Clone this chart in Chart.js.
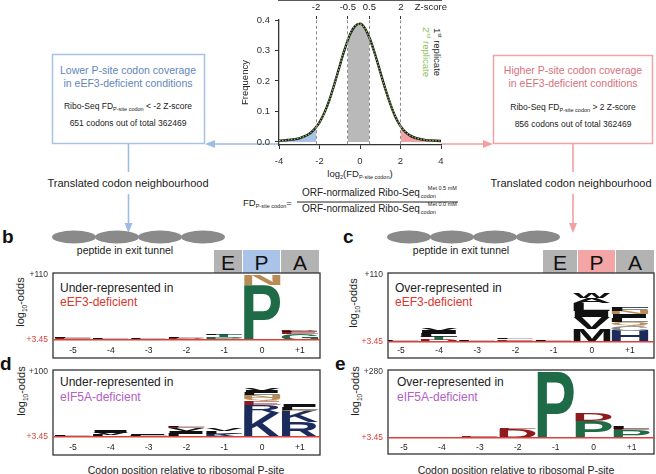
<!DOCTYPE html>
<html><head><meta charset="utf-8">
<script src="https://cdn.jsdelivr.net/npm/chart.js@4.4.1/dist/chart.umd.min.js"></script>
<style>
body{margin:0;background:#fff;}
#root{position:relative;width:656px;height:474px;overflow:hidden;background:#fff;font-family:"Liberation Sans",Arial,Helvetica,sans-serif;color:#222;}
.t{position:absolute;white-space:nowrap;line-height:1;}
.c{transform:translate(-50%,-50%);}
.l{transform:translateY(-50%);}
.cv{position:absolute;}
sub.s{font-size:5.5px;vertical-align:-2px;}
.lab{position:absolute;font-weight:bold;font-size:19px;line-height:1;color:#111;}
</style></head><body><div id="root">

<svg width="656" height="474" style="position:absolute;left:0;top:0">
  <rect x="52.5" y="54.5" width="152" height="89" fill="none" stroke="#a8c2e6" stroke-width="1.5"/>
  <line x1="279" y1="144" x2="213" y2="144" stroke="#9ebbe4" stroke-width="1.6"/>
  <polygon points="205,144 215,140 215,148" fill="#9ebbe4"/>
  <line x1="128.5" y1="144" x2="128.5" y2="172" stroke="#9ebbe4" stroke-width="1.6"/>
  <line x1="128.5" y1="194" x2="128.5" y2="224" stroke="#9ebbe4" stroke-width="1.6"/>
  <polygon points="128.5,233 124.5,223 132.5,223" fill="#9ebbe4"/>
  <rect x="493.5" y="55.5" width="159" height="88" fill="none" stroke="#f0a3a3" stroke-width="1.5"/>
  <line x1="441" y1="144" x2="485" y2="144" stroke="#f2a0a0" stroke-width="1.6"/>
  <polygon points="493,144 483,140 483,148" fill="#f2a0a0"/>
  <line x1="573" y1="144" x2="573" y2="172" stroke="#f2a0a0" stroke-width="1.6"/>
  <line x1="573" y1="194" x2="573" y2="224" stroke="#f2a0a0" stroke-width="1.6"/>
  <polygon points="573,233 569,223 577,223" fill="#f2a0a0"/>
  <line x1="297" y1="202" x2="458" y2="202" stroke="#222" stroke-width="1"/>
  <g fill="#8a8a8a">
    <ellipse cx="74" cy="237" rx="22" ry="6.5"/><ellipse cx="117" cy="237" rx="22" ry="6.5"/>
    <ellipse cx="160" cy="237" rx="22" ry="6.5"/><ellipse cx="203" cy="237" rx="22" ry="6.5"/>
    <ellipse cx="409" cy="237" rx="22" ry="6.5"/><ellipse cx="452" cy="237" rx="22" ry="6.5"/>
    <ellipse cx="495" cy="237" rx="22" ry="6.5"/><ellipse cx="538" cy="237" rx="22" ry="6.5"/>
  </g>
  <rect x="214" y="250" width="28" height="23" fill="#b3b3b3"/>
  <rect x="243" y="250" width="37" height="23" fill="#a9c4e8"/>
  <rect x="281" y="250" width="38" height="23" fill="#b3b3b3"/>
  <rect x="543" y="250" width="34" height="23" fill="#b3b3b3"/>
  <rect x="578" y="250" width="37" height="23" fill="#f4a6a6"/>
  <rect x="616" y="250" width="38" height="23" fill="#b3b3b3"/>
  <g fill="none" stroke="#333" stroke-width="1.3">
    <rect x="53" y="273" width="267" height="85"/>
    <rect x="388" y="273" width="266" height="85"/>
    <rect x="53" y="370" width="267" height="85"/>
    <rect x="388" y="370" width="266" height="84"/>
  </g>
</svg>

<div class="t c" style="left:128px;top:70px;font-size:10.5px;color:#5f86bd">Lower P-site codon coverage</div>
<div class="t c" style="left:128px;top:83px;font-size:10.5px;color:#5f86bd">in eEF3-deficient conditions</div>
<div class="t c" style="left:128px;top:107px;font-size:8.5px">Ribo-Seq FD<sub class="s">P-site codon</sub> &lt; -2 Z-score</div>
<div class="t c" style="left:128px;top:123px;font-size:8.5px">651 codons out of total 362469</div>
<div class="t c" style="left:573px;top:70px;font-size:10.5px;color:#d8707a">Higher P-site codon coverage</div>
<div class="t c" style="left:573px;top:83px;font-size:10.5px;color:#d8707a">in eEF3-deficient conditions</div>
<div class="t c" style="left:573px;top:108px;font-size:8.5px">Ribo-Seq FD<sub class="s">P-site codon</sub> &gt; 2 Z-score</div>
<div class="t c" style="left:573px;top:124px;font-size:8.5px">856 codons out of total 362469</div>
<div class="t c" style="left:128px;top:183px;font-size:11px">Translated codon neighbourhood</div>
<div class="t c" style="left:571px;top:183px;font-size:11px">Translated codon neighbourhood</div>

<div class="t c" style="left:360px;top:175px;font-size:9.5px">log<sub class="s">2</sub>(FD<sub class="s">P-site codon</sub>)</div>
<div class="t c" style="left:437px;top:52px;font-size:9.5px;transform:translate(-50%,-50%) rotate(90deg)">1<sup style="font-size:5.5px">st</sup> replicate</div>
<div class="t c" style="left:426px;top:52px;font-size:9.5px;color:#8dbd5a;transform:translate(-50%,-50%) rotate(90deg)">2<sup style="font-size:5.5px">nd</sup> replicate</div>

<div class="t" style="left:243px;top:198px;font-size:9.5px">FD<sub class="s">P-site codon</sub>=</div>
<div class="t" style="left:302px;top:188px;font-size:10px">ORF-normalized Ribo-Seq<span style="display:inline-block;position:relative;width:36px;height:10px;vertical-align:top"><span style="position:absolute;left:1px;top:6px;font-size:5.5px">codon</span><span style="position:absolute;left:8px;top:-2px;font-size:5.5px">Met 0.5 mM</span></span></div>
<div class="t" style="left:302px;top:204px;font-size:10px">ORF-normalized Ribo-Seq<span style="display:inline-block;position:relative;width:36px;height:10px;vertical-align:top"><span style="position:absolute;left:1px;top:6px;font-size:5.5px">codon</span><span style="position:absolute;left:8px;top:-2px;font-size:5.5px">Met 0.0 mM</span></span></div>

<div class="lab" style="left:2px;top:227px">b</div>
<div class="lab" style="left:343px;top:227px">c</div>
<div class="lab" style="left:0px;top:354px">d</div>
<div class="lab" style="left:335px;top:354px">e</div>

<div class="t c" style="left:125px;top:250px;font-size:10.5px">peptide in exit tunnel</div>
<div class="t c" style="left:461px;top:250px;font-size:10.5px">peptide in exit tunnel</div>
<div class="t c" style="left:228px;top:262px;font-size:21px;color:#111">E</div>
<div class="t c" style="left:261.5px;top:262px;font-size:21px;color:#111">P</div>
<div class="t c" style="left:300px;top:262px;font-size:21px;color:#111">A</div>
<div class="t c" style="left:560px;top:262px;font-size:21px;color:#111">E</div>
<div class="t c" style="left:596.5px;top:262px;font-size:21px;color:#111">P</div>
<div class="t c" style="left:635px;top:262px;font-size:21px;color:#111">A</div>

<div class="t c" style="left:22px;top:302px;font-size:11px;transform:translate(-50%,-50%) rotate(-90deg)">log<sub style="font-size:6.5px">10</sub>-odds</div>
<div class="t c" style="left:355px;top:303px;font-size:11px;transform:translate(-50%,-50%) rotate(-90deg)">log<sub style="font-size:6.5px">10</sub>-odds</div>
<div class="t c" style="left:23px;top:391px;font-size:11px;transform:translate(-50%,-50%) rotate(-90deg)">log<sub style="font-size:6.5px">10</sub>-odds</div>
<div class="t c" style="left:357px;top:391px;font-size:11px;transform:translate(-50%,-50%) rotate(-90deg)">log<sub style="font-size:6.5px">10</sub>-odds</div>

<div class="t l" style="left:60px;top:288px;font-size:12px">Under-represented in</div>
<div class="t l" style="left:60px;top:302px;font-size:12px;color:#d9372f">eEF3-deficient</div>
<div class="t l" style="left:395px;top:288px;font-size:12px">Over-represented in</div>
<div class="t l" style="left:395px;top:302px;font-size:12px;color:#d9372f">eEF3-deficient</div>
<div class="t l" style="left:60px;top:382px;font-size:12px">Under-represented in</div>
<div class="t l" style="left:60px;top:397px;font-size:12px;color:#b35ec6">eIF5A-deficient</div>
<div class="t l" style="left:397px;top:382px;font-size:12px">Over-represented in</div>
<div class="t l" style="left:397px;top:397px;font-size:12px;color:#b35ec6">eIF5A-deficient</div>

<div class="t c" style="left:186px;top:470px;font-size:10.5px">Codon position relative to ribosomal P-site</div>
<div class="t c" style="left:516px;top:470px;font-size:10.5px">Codon position relative to ribosomal P-site</div>

<canvas id="ca" class="cv" width="224" height="170" style="left:236px;top:0px"></canvas>
<canvas id="cb" class="cv" width="330" height="93" style="left:0px;top:265px"></canvas>
<canvas id="cc" class="cv" width="321" height="93" style="left:335px;top:265px"></canvas>
<canvas id="cd" class="cv" width="330" height="93" style="left:0px;top:362px"></canvas>
<canvas id="ce" class="cv" width="321" height="93" style="left:335px;top:362px"></canvas>
</div>

<script>
// ---------------- data: panel a ----------------
const curveX = [-4,-3.75,-3.5,-3.25,-3,-2.75,-2.5,-2.25,-2,-1.75,-1.5,-1.25,-1,-0.75,-0.5,-0.25,0,0.25,0.5,0.75,1,1.25,1.5,1.75,2,2.25,2.5,2.75,3,3.25,3.5,3.75,4];
const rep1 = [0.004,0.005,0.007,0.009,0.012,0.018,0.027,0.042,0.064,0.097,0.140,0.193,0.250,0.305,0.352,0.380,0.388,0.372,0.336,0.286,0.230,0.174,0.124,0.082,0.052,0.032,0.020,0.013,0.009,0.006,0.005,0.004,0.003];
const rep2 = [0.004,0.005,0.007,0.009,0.013,0.018,0.027,0.043,0.064,0.096,0.139,0.192,0.250,0.306,0.353,0.381,0.387,0.371,0.335,0.285,0.229,0.174,0.125,0.083,0.052,0.033,0.020,0.013,0.009,0.006,0.005,0.004,0.003];
const zScoreLabels = ['-2','-0.5','0.5','2','Z-score'];
const zScoreLog2 = [-2.17,-0.6,0.46,2.02,3.5];
const zBoundaryFreq = [0.049,0.340,0.342,0.050];
const freqTicks = [0,0.1,0.2,0.3,0.4];
const log2Ticks = [-4,-2,0,2,4];

// ---------------- data: logos (bottom-up letters, log-odds height) ----------------
const positions = [-5,-4,-3,-2,-1,0,1];
const posLabels = ['-5','-4','-3','-2','-1','0','+1'];
const logoB = [
  [['S',1.5],['E',1.5],['L',2]],
  [['E',1.2],['L',1.5]],
  [['D',1.5],['L',1.2]],
  [['E',2],['D',1.5],['L',1]],
  [['P',5],['T',3],['L',2.5]],
  [['P',90],['N',20]],
  [['G',10],['E',4],['L',1.5],['D',2]]
];
const logoC = [
  [['E',1.5],['L',1.5]],
  [['D',3],['T',5],['L',5],['I',5],['V',4]],
  [['E',2],['L',1.5]],
  [['S',2.5],['E',2],['L',2]],
  [['E',2],['L',2.5]],
  [['M',21],['V',19],['I',10],['L',12],['A',8],['W',7]],
  [['H',18],['C',8],['Q',6],['L',6],['I',6],['N',5],['F',5]]
];
const logoD = [
  [['E',1.5],['L',1.5]],
  [['L',3],['V',3],['I',3]],
  [['E',1.5],['L',2],['I',1]],
  [['L',5],['I',4],['V',4],['E',2],['F',2]],
  [['K',5],['L',4],['V',3]],
  [['K',36],['R',12],['E',6],['Q',4],['N',4],['L',3],['I',3],['V',3]],
  [['R',22],['K',17],['Q',2],['L',4],['I',3]]
];
const logoE = [
  [['D',2]],
  [['D',3],['E',2]],
  [['D',5],['E',4]],
  [['D',38],['E',4]],
  [['P',275],['E',30]],
  [['P',72],['D',30]],
  [['P',34],['E',3],['L',12]]
];
const logoBaseline = 3.45;
const yTicksB = [3.45,110], yLabelsB = ['+3.45','+110'];
const yTicksC = [3.45,110], yLabelsC = ['+3.45','+110'];
const yTicksD = [3.45,100], yLabelsD = ['+3.45','+100'];
const yTicksE = [3.45,280], yLabelsE = ['+3.45','+280'];

// ---------------- styles ----------------
const FONT = '"Liberation Sans", Arial, Helvetica, sans-serif';
Chart.defaults.font.family = FONT;
Chart.defaults.animation = false;
Chart.defaults.color = '#333';
const aaColor = {P:'#1f6b47',G:'#1f6b47',S:'#1f6b47',T:'#1f6b47',
  D:'#8e1c1c',E:'#8e1c1c',K:'#1b2b5c',R:'#1b2b5c',H:'#1b2b5c',
  N:'#b98c55',Q:'#b98c55',C:'#8a8a8a',Y:'#8a8a8a'};
const colorFor = ch => aaColor[ch] || '#111';

// ---------------- panel a ----------------
function region(lo, hi, loY, hiY) {
  const pts = [];
  if (loY !== null) pts.push({x: lo, y: loY});
  curveX.forEach((x, i) => { if (x > lo && x < hi) pts.push({x: x, y: rep1[i]}); });
  if (hiY !== null) pts.push({x: hi, y: hiY});
  return pts;
}
const blueRegion = region(-Infinity, zScoreLog2[0], null, zBoundaryFreq[0]);
const greyRegion = region(zScoreLog2[1], zScoreLog2[2], zBoundaryFreq[1], zBoundaryFreq[2]);
const redRegion  = region(zScoreLog2[3], Infinity, zBoundaryFreq[3], null);
const pts = arr => curveX.map((x, i) => ({x: x, y: arr[i]}));
const lineBase = {pointRadius: 0, cubicInterpolationMode: 'monotone', fill: false};

new Chart(document.getElementById('ca'), {
  type: 'line',
  data: {datasets: [
    Object.assign({label: '2nd replicate', data: pts(rep2), borderColor: '#8dbd5a', borderWidth: 1.3, borderDash: [1.5, 1.5]}, lineBase),
    Object.assign({label: '1st replicate', data: pts(rep1), borderColor: '#1a1a1a', borderWidth: 2.4}, lineBase),
    Object.assign({data: blueRegion, borderWidth: 0, backgroundColor: '#a8c3e6'}, lineBase, {fill: 'origin'}),
    Object.assign({data: greyRegion, borderWidth: 0, backgroundColor: '#b9b9b9'}, lineBase, {fill: 'origin'}),
    Object.assign({data: redRegion, borderWidth: 0, backgroundColor: '#f3a3a3'}, lineBase, {fill: 'origin'})
  ]},
  options: {
    responsive: false, events: [],
    layout: {padding: {top: 0, right: 19, bottom: 0, left: 0}},
    plugins: {legend: {display: false}, tooltip: {enabled: false}},
    scales: {
      x: {type: 'linear', position: 'bottom', min: -4, max: 4,
        afterBuildTicks: s => { s.ticks = log2Ticks.map(v => ({value: v})); },
        afterFit: s => { s.height = 25; },
        ticks: {font: {size: 9.5}, color: '#333', padding: 7, maxRotation: 0, autoSkip: false},
        grid: {display: true, drawOnChartArea: false, tickLength: 4, color: '#333', tickWidth: 1},
        border: {display: true, color: '#333', width: 1.3}},
      xTop: {type: 'linear', position: 'top', min: -4, max: 4,
        afterBuildTicks: s => { s.ticks = zScoreLog2.map(v => ({value: v})); },
        afterFit: s => { s.height = 20; },
        ticks: {font: {size: 9.5}, color: '#222', padding: 3, maxRotation: 0, autoSkip: false,
          callback: (v, i) => zScoreLabels[i]},
        grid: {display: true, drawOnChartArea: true, tickLength: 4, z: 1, lineWidth: 1,
          borderDash: [3, 2.5],
          color: c => c.index === zScoreLabels.length - 1 ? 'rgba(0,0,0,0)' : '#8c8c8c',
          tickColor: c => c.index === zScoreLabels.length - 1 ? 'rgba(0,0,0,0)' : '#333'},
        border: {display: true, color: '#222', width: 1.3, dash: [3, 2.5]}},
      y: {type: 'linear', min: -0.01, max: 0.4,
        afterBuildTicks: s => { s.ticks = freqTicks.map(v => ({value: v})); },
        afterFit: s => { s.width = 43; },
        ticks: {font: {size: 9.5}, color: '#333', padding: 5, callback: v => Number(v).toFixed(1)},
        grid: {display: true, drawOnChartArea: false, tickLength: 4, color: '#333'},
        border: {display: true, color: '#333', width: 1.3},
        title: {display: true, text: 'Frequency', font: {size: 9.5}, color: '#222', padding: {top: 4, bottom: 0}}}
    }
  }
});

// ---------------- logos ----------------
function drawGlyph(ctx, ch, color, x, y, w, h) {
  ctx.save();
  ctx.font = 'bold 100px ' + FONT;
  ctx.textAlign = 'left';
  ctx.textBaseline = 'alphabetic';
  const m = ctx.measureText(ch);
  const gl = m.actualBoundingBoxLeft, gr = m.actualBoundingBoxRight;
  const ga = m.actualBoundingBoxAscent, gd = m.actualBoundingBoxDescent;
  ctx.translate(x, y);
  ctx.scale(w / (gl + gr), h / (ga + gd));
  ctx.fillStyle = color;
  ctx.fillText(ch, gl, ga);
  ctx.restore();
}
const logoPlugin = {
  id: 'logoLetters',
  afterDatasetsDraw(chart) {
    const ctx = chart.ctx, a = chart.chartArea;
    ctx.save();
    ctx.beginPath(); ctx.rect(a.left, a.top, a.right - a.left, a.bottom - a.top); ctx.clip();
    chart.data.datasets.forEach((ds, di) => {
      if (!ds.letters) return;
      chart.getDatasetMeta(di).data.forEach((el, i) => {
        const ch = ds.letters[i];
        if (!ch) return;
        const p = el.getProps(['x', 'y', 'base', 'width'], true);
        const top = Math.min(p.y, p.base), h = Math.abs(p.base - p.y);
        if (h < 0.4) return;
        drawGlyph(ctx, ch, colorFor(ch), p.x - p.width / 2, top, p.width, h);
      });
    });
    ctx.restore();
  }
};
function buildLogo(stacks) {
  const depth = Math.max(...stacks.map(s => s.length));
  const sets = [];
  for (let k = 0; k < depth; k++) {
    const data = [], letters = [];
    stacks.forEach((s, i) => {
      if (k < s.length) {
        const start = logoBaseline + s.slice(0, k).reduce((acc, e) => acc + e[1], 0);
        data.push({x: positions[i], y: [start, start + s[k][1]]});
        letters.push(s[k][0]);
      }
    });
    sets.push({type: 'bar', data: data, letters: letters, backgroundColor: 'rgba(0,0,0,0)',
      borderWidth: 0, grouped: false, barPercentage: 0.97, categoryPercentage: 1});
  }
  return sets;
}
function logoChart(id, stacks, xMin, xMax, yMin, yMax, yTicks, yLabels, padRight) {
  new Chart(document.getElementById(id), {
    type: 'bar',
    data: {datasets: buildLogo(stacks)},
    plugins: [logoPlugin],
    options: {
      responsive: false, events: [],
      layout: {padding: {top: 8, right: padRight, bottom: 0, left: 0}},
      plugins: {legend: {display: false}, tooltip: {enabled: false}},
      scales: {
        x: {type: 'linear', min: xMin, max: xMax, offset: false,
          afterBuildTicks: s => { s.ticks = positions.map(v => ({value: v})); },
          afterFit: s => { s.height = 13; },
          ticks: {font: {size: 8.5}, color: '#222', padding: 1, maxRotation: 0, autoSkip: false,
            callback: (v, i) => posLabels[i]},
          grid: {display: false, drawTicks: false, tickLength: 0}, border: {display: false}},
        y: {type: 'linear', min: yMin, max: yMax,
          afterBuildTicks: s => { s.ticks = yTicks.map(v => ({value: v})); },
          afterFit: s => { s.width = 53; },
          ticks: {font: {size: 8.5}, padding: 5, callback: (v, i) => yLabels[i],
            color: c => c.index === 0 ? '#d9413a' : '#333'},
          grid: {display: true, drawOnChartArea: true, drawTicks: false, tickLength: 0, z: 1, lineWidth: 1.5,
            color: c => c.index === 0 ? '#d9413a' : 'rgba(0,0,0,0)'},
          border: {display: false}}
      }
    }
  });
}
logoChart('cb', logoB, -5.53, 1.53, -4.5, 110, yTicksB, yLabelsB, 10);
logoChart('cc', logoC, -5.34, 1.63, -1.18, 110, yTicksC, yLabelsC, 2);
logoChart('cd', logoD, -5.53, 1.53, -3.76, 100, yTicksD, yLabelsD, 10);
logoChart('ce', logoE, -5.42, 1.59, -12.8, 280, yTicksE, yLabelsE, 2);
</script>
</body></html>
